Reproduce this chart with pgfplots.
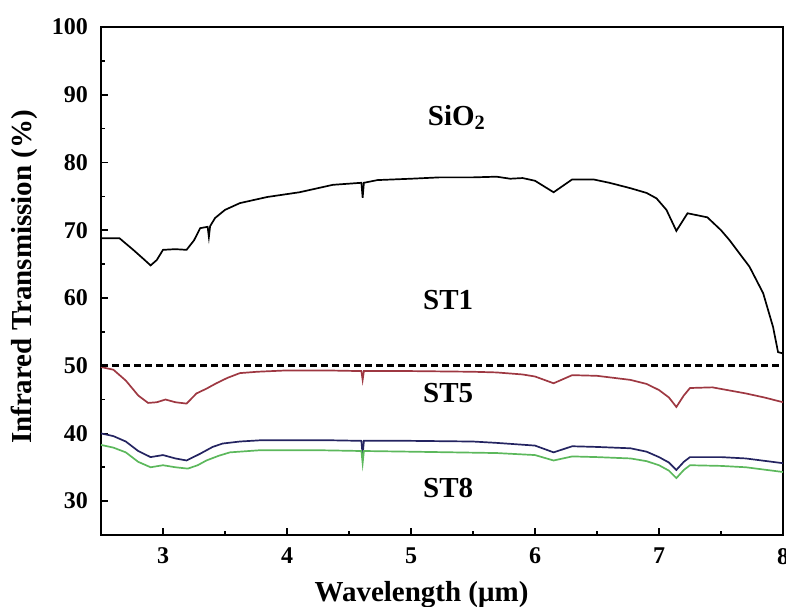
\documentclass[border=0pt]{standalone}
\usepackage{pgfplots}
\pgfplotsset{compat=1.18}
\usepackage{fontspec}
\setmainfont{Liberation Serif}

\definecolor{stfive}{rgb}{0.62,0.22,0.26}
\definecolor{stblue}{rgb}{0.14,0.14,0.38}
\definecolor{stgreen}{rgb}{0.36,0.72,0.36}

\begin{document}
\begin{tikzpicture}
\begin{axis}[
  scale only axis,
  width=341pt, height=254pt,
  xmin=2.5, xmax=8, ymin=25, ymax=100,
  xtick={3,4,5,6,7,8}, ytick={30,40,50,60,70,80,90,100},
  minor x tick num=1, minor y tick num=1,
  xtick pos=bottom, ytick pos=left,
  tick align=inside,
  major tick length=3.5pt, minor tick length=2pt,
  axis line style={line width=1pt},
  every tick/.style={black, line width=0.8pt},
  /pgf/number format/assume math mode=true,
  tick label style={font=\bfseries\fontsize{12}{13}\selectfont},
  xticklabel style={yshift=-3pt},
  yticklabel style={xshift=-3pt},
  label style={font=\bfseries\fontsize{14.5}{16}\selectfont},
  xlabel={Wavelength (μm)},
  ylabel={Infrared Transmission (\%)},
  xlabel style={at={(axis description cs:0.47,-0.118)}, anchor=center},
  ylabel style={at={(axis description cs:-0.113,0.508)}, anchor=center},
]
\coordinate (sw) at (rel axis cs:0,0);
\coordinate (ne) at (rel axis cs:1,1);

% SiO2 reference glass
\addplot[black, line width=0.85pt] coordinates {
(2.5,68.8) (2.65,68.8) (2.76,67.1) (2.84,65.8) (2.9,64.8) (2.95,65.6) (3.0,67.1)
(3.1,67.2) (3.19,67.1) (3.25,68.5) (3.3,70.3) (3.36,70.5) (3.37,69.0) (3.38,70.6)
(3.42,71.8) (3.5,73.0) (3.62,74.0) (3.84,74.9) (4.1,75.6) (4.37,76.7) (4.6,77.0)
(4.61,74.8) (4.62,77.0) (4.73,77.4) (5.0,77.6) (5.23,77.8) (5.5,77.8) (5.69,77.9)
(5.8,77.6) (5.9,77.7) (6.0,77.3) (6.15,75.6) (6.3,77.5) (6.47,77.5) (6.6,77.0)
(6.77,76.2) (6.9,75.5) (6.98,74.7) (7.06,73.0) (7.14,69.9) (7.23,72.5) (7.39,71.9)
(7.5,70.0) (7.57,68.5) (7.73,64.6) (7.84,60.7) (7.92,55.7) (7.96,52.0) (8.0,51.8)
};

% ST5
\addplot[stfive, line width=0.85pt] coordinates {
(2.5,49.8) (2.6,49.4) (2.7,47.8) (2.8,45.6) (2.88,44.5) (2.95,44.6) (3.02,45.0)
(3.1,44.6) (3.19,44.4) (3.27,45.9) (3.35,46.6) (3.43,47.4) (3.52,48.2) (3.62,48.9)
(3.76,49.1) (4.0,49.3) (4.3,49.3) (4.6,49.2) (4.61,47.9) (4.62,49.2) (5.0,49.2)
(5.5,49.1) (5.69,49.0) (5.9,48.7) (6.0,48.4) (6.15,47.4) (6.3,48.6) (6.5,48.5)
(6.77,47.9) (6.9,47.3) (7.0,46.4) (7.08,45.3) (7.14,43.9) (7.2,45.6) (7.25,46.7)
(7.43,46.8) (7.7,45.9) (7.85,45.3) (8.0,44.6)
};

% ST8 (upper trace)
\addplot[stblue, line width=0.85pt] coordinates {
(2.5,40.0) (2.6,39.6) (2.7,38.8) (2.8,37.4) (2.9,36.5) (3.0,36.8) (3.1,36.3)
(3.19,36.0) (3.3,37.0) (3.4,38.0) (3.48,38.5) (3.62,38.8) (3.8,39.0) (4.3,39.0)
(4.6,38.9) (4.61,36.8) (4.62,38.9) (5.0,38.9) (5.5,38.8) (5.69,38.6) (6.0,38.2)
(6.15,37.2) (6.3,38.1) (6.5,38.0) (6.77,37.8) (6.9,37.3) (7.0,36.5) (7.08,35.7)
(7.14,34.6) (7.2,35.8) (7.25,36.5) (7.5,36.5) (7.7,36.3) (8.0,35.6)
};

% ST8 (lower trace)
\addplot[stgreen, line width=0.85pt] coordinates {
(2.5,38.3) (2.6,37.9) (2.7,37.2) (2.8,35.8) (2.9,35.0) (3.0,35.3) (3.1,35.0)
(3.2,34.8) (3.28,35.3) (3.35,36.0) (3.45,36.7) (3.54,37.2) (3.77,37.5) (4.3,37.5)
(4.6,37.4) (4.61,35.6) (4.62,37.4) (5.0,37.3) (5.69,37.1) (6.0,36.8) (6.15,36.0)
(6.3,36.6) (6.5,36.5) (6.77,36.3) (6.9,35.9) (7.0,35.3) (7.08,34.5) (7.14,33.4)
(7.2,34.6) (7.25,35.3) (7.5,35.2) (7.7,35.0) (8.0,34.3)
};

% 50 % reference level
\addplot[black, line width=1.6pt, dash pattern=on 3.5pt off 2pt] coordinates {(2.5,50) (8,50)};

\begin{scope}[font=\bfseries\fontsize{14.5}{16}\selectfont]
\node at (axis cs:5.37,86.6) {SiO\textsubscript{2}};
\node at (axis cs:5.3,59.7) {ST1};
\node at (axis cs:5.3,45.9) {ST5};
\node at (axis cs:5.3,32.0) {ST8};
\end{scope}
\end{axis}
\pgfresetboundingbox
\path ([shift={(-50.5pt,-36pt)}]sw) rectangle ([shift={(1.5pt,13.5pt)}]ne);
\end{tikzpicture}
\end{document}
